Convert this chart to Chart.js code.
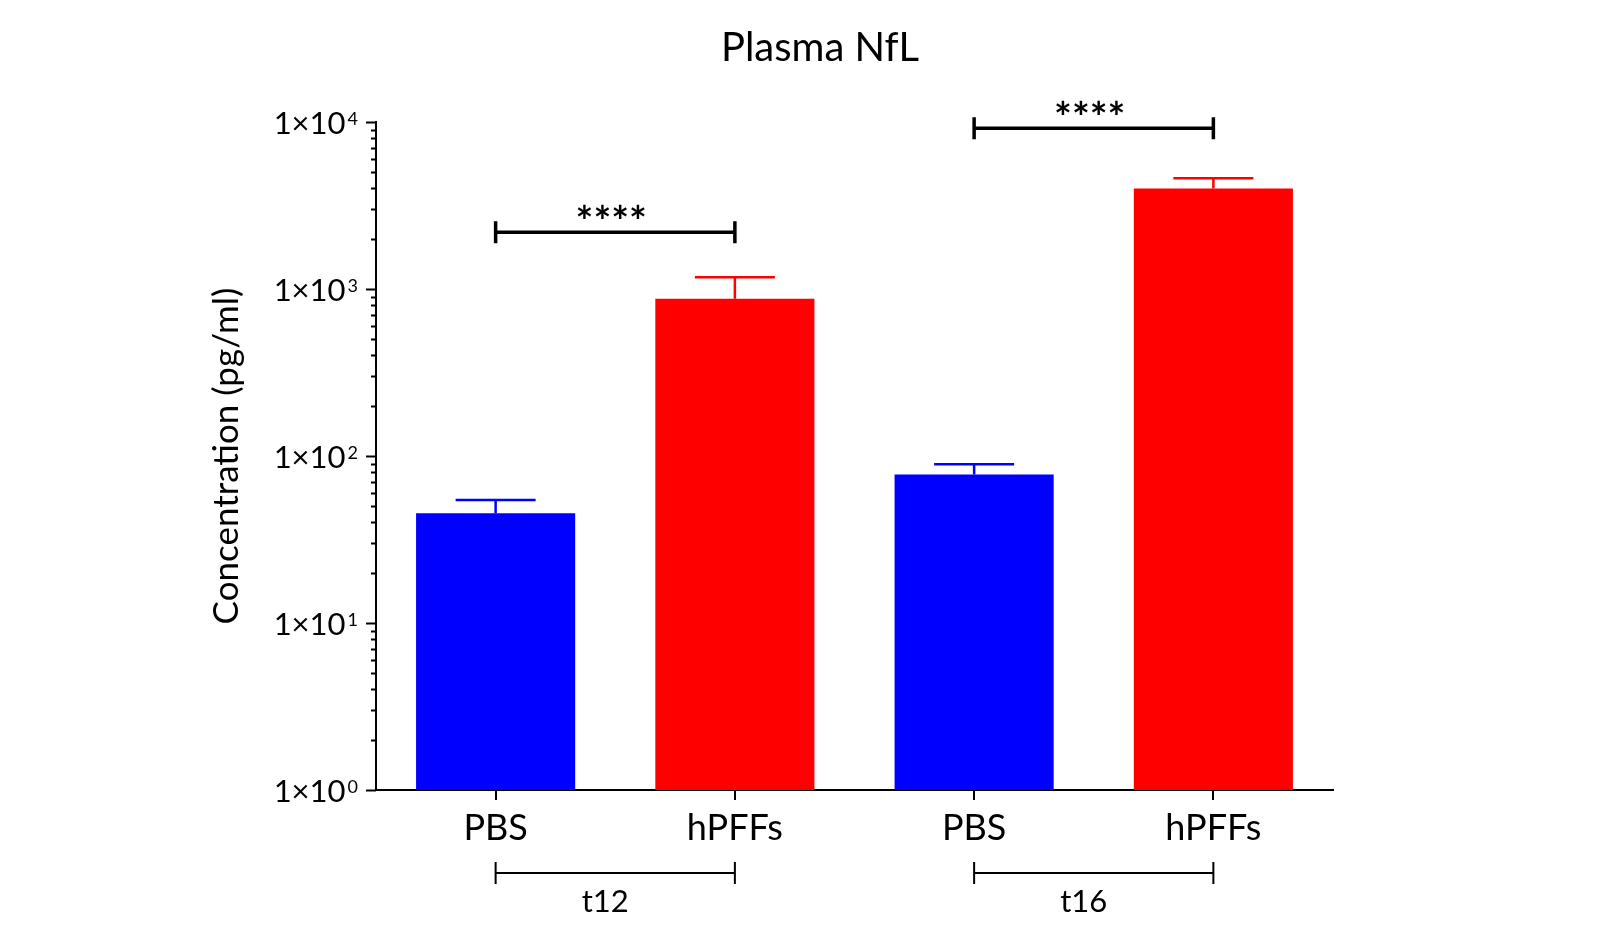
<!DOCTYPE html>
<html>
<head>
<meta charset="utf-8">
<title>Plasma NfL</title>
<script src="https://cdn.jsdelivr.net/npm/chart.js@4/dist/chart.umd.min.js"></script>
<style>
  html, body { margin: 0; padding: 0; background: #fff; }
  #wrap { width: 1600px; height: 933px; }
</style>
</head>
<body>
<div id="wrap"><canvas id="nfl_chart"></canvas></div>
<script>
// values (pg/ml)
const categories = ['PBS', 'hPFFs', 'PBS', 'hPFFs'];
const groups = ['t12', 't16'];
const groupMembers = [[0, 1], [2, 3]];
const means = [45.4, 875, 77.6, 4000];
const sem = [9.2, 300, 11.7, 610];
const sigPairs = [[0, 1], [2, 3]];
const sigLabels = ['****', '****'];
const sigLevels = [2185, 9190];
const chartTitle = 'Plasma NfL';

const FONT = 'Lato, "Noto Sans", sans-serif';

const decorations = {
    id: 'decorations',
    afterDatasetsDraw(chart) {
        const ctx = chart.ctx;
        const x = chart.scales.x;
        const y = chart.scales.y;
        ctx.save();

        // title
        ctx.fillStyle = '#000';
        ctx.font = '40px ' + FONT;
        ctx.textAlign = 'center';
        ctx.textBaseline = 'alphabetic';
        ctx.fillText(chartTitle, 820, 61);

        // error bars (upper only)
        const colors = chart.data.datasets[0].backgroundColor;
        means.forEach((m, i) => {
            const px = x.getPixelForValue(i);
            const top = y.getPixelForValue(m);
            const up = y.getPixelForValue(m + sem[i]);
            ctx.strokeStyle = colors[i];
            ctx.lineWidth = 2.5;
            ctx.beginPath();
            ctx.moveTo(px, top);
            ctx.lineTo(px, up);
            ctx.moveTo(px - 40, up);
            ctx.lineTo(px + 40, up);
            ctx.stroke();
        });

        // y ticks, major and minor, and the 1x10^n labels
        ctx.strokeStyle = '#000';
        ctx.lineWidth = 2;
        y.ticks.forEach(t => {
            const v = t.value;
            const e = Math.floor(Math.log10(v) + 1e-9);
            const mant = v / Math.pow(10, e);
            if (Math.abs(mant - Math.round(mant)) > 1e-6) return;
            const major = Math.round(mant) === 1;
            const len = major ? 10 : 5;
            const py = Math.round(y.getPixelForValue(v)) + 0.5;
            ctx.beginPath();
            ctx.moveTo(y.right - len, py);
            ctx.lineTo(y.right, py);
            ctx.stroke();
            if (major) {
                const right = y.right - 18;
                ctx.textAlign = 'right';
                ctx.font = '18px ' + FONT;
                const exp = String(e);
                const ew = ctx.measureText(exp).width;
                ctx.fillText(exp, right, py + 2);
                ctx.font = '31px ' + FONT;
                ctx.fillText('1\u00d710', right - ew - 2, py + 11);
            }
        });

        // significance brackets
        ctx.lineWidth = 3.5;
        ctx.textAlign = 'center';
        ctx.font = 'bold 42px ' + FONT;
        sigPairs.forEach((p, k) => {
            const x1 = x.getPixelForValue(p[0]);
            const x2 = x.getPixelForValue(p[1]);
            const py = y.getPixelForValue(sigLevels[k]);
            ctx.beginPath();
            ctx.moveTo(x1, py);
            ctx.lineTo(x2, py);
            ctx.moveTo(x1, py - 11);
            ctx.lineTo(x1, py + 11);
            ctx.moveTo(x2, py - 11);
            ctx.lineTo(x2, py + 11);
            ctx.stroke();
            ctx.fillText(sigLabels[k], (x1 + x2) / 2 - 4, py + 5);
        });

        // group brackets under the x labels
        ctx.lineWidth = 2;
        ctx.font = '31px ' + FONT;
        ctx.textBaseline = 'middle';
        const gy = chart.chartArea.bottom + 83;
        groupMembers.forEach((g, k) => {
            const x1 = x.getPixelForValue(g[0]);
            const x2 = x.getPixelForValue(g[1]);
            ctx.beginPath();
            ctx.moveTo(x1, gy);
            ctx.lineTo(x2, gy);
            ctx.moveTo(x1, gy - 11);
            ctx.lineTo(x1, gy + 11);
            ctx.moveTo(x2, gy - 11);
            ctx.lineTo(x2, gy + 11);
            ctx.stroke();
            ctx.fillText(groups[k], (x1 + x2) / 2 - 10, gy + 29);
        });
        ctx.restore();
    }
};

new Chart(document.getElementById('nfl_chart').getContext('2d'), {
    type: 'bar',
    data: {
        labels: categories,
        datasets: [{
            data: means,
            backgroundColor: ['#0000ff', '#ff0000', '#0000ff', '#ff0000'],
            borderWidth: 0,
            barPercentage: 0.665,
            categoryPercentage: 1
        }]
    },
    options: {
        responsive: true,
        maintainAspectRatio: false,
        animation: false,
        layout: {
            padding: {left: 206, right: 267, top: 122, bottom: 0}
        },
        plugins: {
            legend: {display: false},
            tooltip: {enabled: false},
            title: {display: false}
        },
        scales: {
            x: {
                grid: {display: true, drawOnChartArea: false, drawTicks: true, tickLength: 10,
                    color: '#000', lineWidth: 2, offset: false},
                border: {display: true, color: '#000', width: 2},
                ticks: {color: '#000', font: {family: FONT, size: 36}, padding: 7, maxRotation: 0},
                afterFit(scale) { scale.height = 143; }
            },
            y: {
                type: 'logarithmic',
                min: 1,
                max: 10000,
                grid: {display: false, drawTicks: false},
                border: {display: true, color: '#000', width: 2},
                ticks: {display: false, autoSkip: false},
                title: {
                    display: true,
                    text: 'Concentration (pg/ml)',
                    color: '#000',
                    font: {family: FONT, size: 35},
                    padding: 0
                },
                afterFit(scale) { scale.width = 170; }
            }
        }
    },
    plugins: [decorations]
});
</script>
</body>
</html>
